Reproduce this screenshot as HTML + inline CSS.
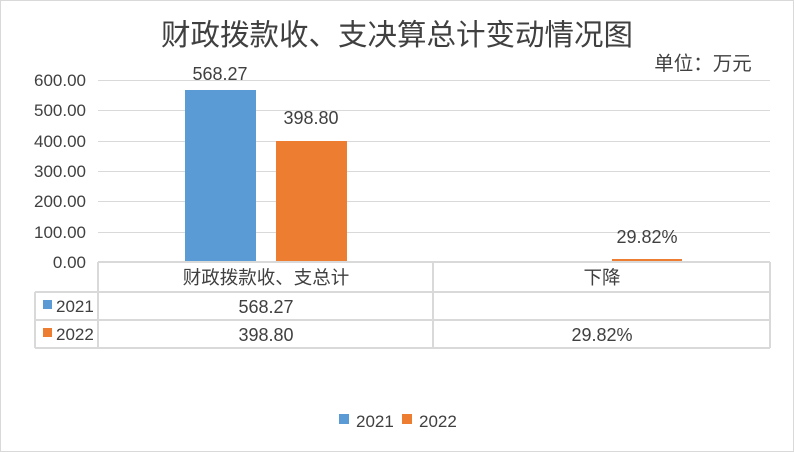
<!DOCTYPE html>
<html><head><meta charset="utf-8"><style>
html,body{margin:0;padding:0;background:#fff}
svg{display:block;font-family:"Liberation Sans","Noto Sans CJK SC",sans-serif}
</style></head><body>
<svg width="794" height="452" viewBox="0 0 794 452" xmlns="http://www.w3.org/2000/svg">
<rect x="0.5" y="0.5" width="793" height="451" fill="#fff" stroke="#d9d9d9"/>
<text x="397" y="45" text-anchor="middle" font-size="29.5" fill="#404040" font-family="'Noto Sans CJK SC',sans-serif">财政拨款收、支决算总计变动情况图</text>
<text x="703" y="70" text-anchor="middle" font-size="19.5" fill="#404040" font-family="'Noto Sans CJK SC',sans-serif">单位：万元</text>
<g stroke="#d9d9d9" stroke-width="1">
<line x1="98" y1="80.5" x2="770" y2="80.5"/>
<line x1="98" y1="110.5" x2="770" y2="110.5"/>
<line x1="98" y1="141.5" x2="770" y2="141.5"/>
<line x1="98" y1="171.5" x2="770" y2="171.5"/>
<line x1="98" y1="201.5" x2="770" y2="201.5"/>
<line x1="98" y1="232.5" x2="770" y2="232.5"/>
</g>
<g font-size="17" fill="#404040" text-anchor="end">
<text x="86" y="86">600.00</text>
<text x="86" y="116">500.00</text>
<text x="86" y="147">400.00</text>
<text x="86" y="177">300.00</text>
<text x="86" y="207">200.00</text>
<text x="86" y="238">100.00</text>
<text x="86" y="268">0.00</text>
</g>
<rect x="185" y="90" width="71" height="172" fill="#5b9bd5"/>
<rect x="276" y="141" width="71" height="121" fill="#ed7d31"/>
<rect x="612" y="259" width="70" height="2" fill="#ed7d31"/>
<g font-size="18" fill="#404040" text-anchor="middle">
<text x="220" y="80">568.27</text>
<text x="311" y="124">398.80</text>
<text x="647" y="243">29.82%</text>
</g>
<g stroke="#d9d9d9" stroke-width="2" fill="none">
<line x1="98" y1="262" x2="770" y2="262"/>
<line x1="98" y1="262" x2="98" y2="348"/>
<line x1="433" y1="262" x2="433" y2="348"/>
<line x1="770" y1="262" x2="770" y2="348"/>
<line x1="35" y1="292" x2="770" y2="292"/>
<line x1="35" y1="320" x2="770" y2="320"/>
<line x1="35" y1="348" x2="770" y2="348"/>
<line x1="35" y1="292" x2="35" y2="348"/>
</g>
<g font-size="18" fill="#404040" text-anchor="middle">
<text x="266" y="284" font-size="18.5" font-family="'Noto Sans CJK SC',sans-serif">财政拨款收、支总计</text>
<text x="602" y="284" font-size="18.5" font-family="'Noto Sans CJK SC',sans-serif">下降</text>
<text x="266" y="313">568.27</text>
<text x="266" y="341">398.80</text>
<text x="602" y="341">29.82%</text>
</g>
<rect x="43" y="300" width="9" height="9" fill="#5b9bd5"/>
<rect x="43" y="328" width="9" height="9" fill="#ed7d31"/>
<g font-size="17" fill="#404040">
<text x="56" y="312">2021</text>
<text x="56" y="340">2022</text>
</g>
<rect x="339" y="414" width="10" height="10" fill="#5b9bd5"/>
<rect x="402" y="414" width="10" height="10" fill="#ed7d31"/>
<g font-size="17" fill="#404040">
<text x="356" y="427">2021</text>
<text x="419" y="427">2022</text>
</g>
</svg>
</body></html>
